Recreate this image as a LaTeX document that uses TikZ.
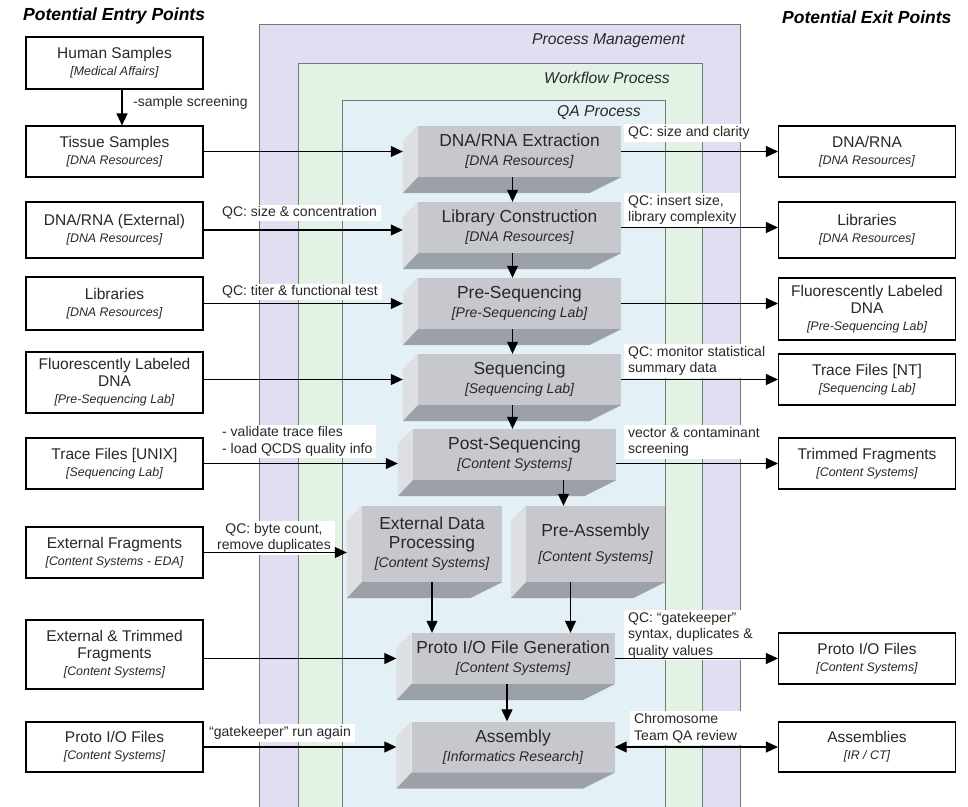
\documentclass[tikz,border=0pt]{standalone}
\usepackage{fontspec}
\setmainfont{Liberation Sans}
\usetikzlibrary{arrows.meta}
\usetikzlibrary{calc,positioning}

\definecolor{pmband}{RGB}{224,222,240}
\definecolor{wfband}{RGB}{226,242,229}
\definecolor{qaband}{RGB}{227,240,246}
\definecolor{frontgray}{RGB}{198,200,206}
\definecolor{sidegray}{RGB}{222,223,227}
\definecolor{basegray}{RGB}{156,160,168}
\definecolor{bandline}{RGB}{120,120,120}
\definecolor{inktext}{RGB}{40,40,40}

\newcommand{\dept}[1]{{\fontsize{12.4}{14}\selectfont\itshape #1}}
\newcommand{\pdept}[1]{{\fontsize{14}{16}\selectfont\itshape #1}}

\begin{document}
\begin{tikzpicture}[x=1pt, y=-1pt, >={Triangle[length=12pt,width=11pt]},
    endbox/.style={draw, line width=1.1pt, fill=white, minimum width=177pt, align=center,
        inner sep=0pt, text=inktext, font=\fontsize{15.5}{17}\selectfont},
    procbox/.style={fill=frontgray, minimum width=203pt, minimum height=51pt, align=center,
        inner sep=0pt, text=inktext, font=\fontsize{17.4}{19}\selectfont},
    qclabel/.style={fill=white, align=left, anchor=west, inner xsep=4pt, inner ysep=2pt,
        text=inktext, font=\fontsize{14}{16.5}\selectfont},
    bandlabel/.style={anchor=east, inner sep=0pt, text=inktext, font=\fontsize{15.7}{18}\selectfont\itshape},
    heading/.style={anchor=west, inner sep=0pt, font=\fontsize{17.5}{20}\selectfont\bfseries\itshape},
    flow/.style={->, line width=1.1pt}]

    \useasboundingbox (0,0) rectangle (968,806);

    % nested process areas
    \filldraw[fill=pmband, draw=bandline] (259,24) rectangle (740,812);
    \filldraw[fill=wfband, draw=bandline] (298,63) rectangle (702,812);
    \filldraw[fill=qaband, draw=bandline] (342,100) rectangle (665,812);

    \node[bandlabel] (pmlbl) at (685,41) {Process Management};
    \node[bandlabel] (wflbl) at (670,78) {Workflow Process};
    \node[bandlabel] (qalbl) at (641,112) {QA Process};

    \node[heading] (entryhd) at (23,16) {Potential Entry Points};
    \node[heading] (exithd) at (782,17) {Potential Exit Points};

    % QC notes
    \node[qclabel, inner xsep=0pt, fill=none] (screen) at (133,103) {-sample screening};
    \node[qclabel] (qcconc) at (218,213) {QC: size \& concentration};
    \node[qclabel] (qctiter) at (218,292) {QC: titer \& functional test};
    \node[qclabel] (qctrace) at (218,441.5) {- validate trace files\\- load QCDS quality info};
    \node[qclabel, align=center, anchor=center] (qcbyte) at (274,538) {QC: byte count,\\remove duplicates};
    \node[qclabel] (qcgate) at (205,733) {``gatekeeper'' run again};
    \node[qclabel] (qcclar) at (624,133) {QC: size and clarity};
    \node[qclabel] (qcins) at (624,210) {QC: insert size,\\library complexity};
    \node[qclabel] (qcstat) at (624,361) {QC: monitor statistical\\summary data};
    \node[qclabel] (qcvec) at (624,442) {vector \& contaminant\\screening};
    \node[qclabel] (qcsyn) at (624,635) {QC: ``gatekeeper''\\syntax, duplicates \&\\quality values};
    \node[qclabel] (qcrev) at (630,728) {Chromosome\\Team QA review};

    % entry points
    \node[endbox, minimum height=52pt] (hs) at (114.5,63) {Human Samples\\\dept{[Medical Affairs]}};
    \node[endbox, minimum height=51pt] (ts) at (114.5,151.5) {Tissue Samples\\\dept{[DNA Resources]}};
    \node[endbox, minimum height=56pt] (dnaext) at (114.5,230) {DNA/RNA (External)\\\dept{[DNA Resources]}};
    \node[endbox, minimum height=53pt] (libin) at (114.5,303.5) {Libraries\\\dept{[DNA Resources]}};
    \node[endbox, minimum height=61pt] (fldin) at (114.5,382.5) {Fluorescently Labeled\\DNA\\\dept{[Pre-Sequencing Lab]}};
    \node[endbox, minimum height=51pt] (trunix) at (114.5,463.5) {Trace Files [UNIX]\\\dept{[Sequencing Lab]}};
    \node[endbox, minimum height=51pt] (extfrag) at (114.5,552.5) {External Fragments\\\dept{[Content Systems - EDA]}};
    \node[endbox, minimum height=69pt] (etfrag) at (114.5,654.5) {External \& Trimmed\\Fragments\\\dept{[Content Systems]}};
    \node[endbox, minimum height=50pt] (protoin) at (114.5,747) {Proto I/O Files\\\dept{[Content Systems]}};

    % exit points
    \node[endbox, minimum height=51pt] (dnaout) at (867,151.5) {DNA/RNA\\\dept{[DNA Resources]}};
    \node[endbox, minimum height=56pt] (libout) at (867,230) {Libraries\\\dept{[DNA Resources]}};
    \node[endbox, minimum height=62pt] (fldout) at (867,309) {Fluorescently Labeled\\DNA\\\dept{[Pre-Sequencing Lab]}};
    \node[endbox, minimum height=51pt] (trnt) at (867,379.5) {Trace Files [NT]\\\dept{[Sequencing Lab]}};
    \node[endbox, minimum height=51pt] (trimout) at (867,463.5) {Trimmed Fragments\\\dept{[Content Systems]}};
    \node[endbox, minimum height=51pt] (protoout) at (867,658.5) {Proto I/O Files\\\dept{[Content Systems]}};
    \node[endbox, minimum height=50pt] (asmout) at (867,747) {Assemblies\\\dept{[IR / CT]}};

    % process steps
    \node[procbox] (extr) at (519.5,151.5) {DNA/RNA Extraction\\\pdept{[DNA Resources]}};
    \node[procbox] (libc) at (519.5,227.5) {Library Construction\\\pdept{[DNA Resources]}};
    \node[procbox] (preseq) at (519.5,303.5) {Pre-Sequencing\\\pdept{[Pre-Sequencing Lab]}};
    \node[procbox] (seq) at (519.5,379.5) {Sequencing\\\pdept{[Sequencing Lab]}};
    \node[procbox] (postseq) at (514.5,454.5) {Post-Sequencing\\\pdept{[Content Systems]}};
    \node[procbox, minimum width=140pt, minimum height=76pt] (edp) at (432,544) {External Data\\Processing\\\pdept{[Content Systems]}};
    \node[procbox, minimum width=139pt, minimum height=76pt] (preasm) at (595.5,544) {Pre-Assembly\\[6pt]\pdept{[Content Systems]}};
    \node[procbox] (protogen) at (513,658.5) {Proto I/O File Generation\\\pdept{[Content Systems]}};
    \node[procbox] (asm) at (513,747) {Assembly\\\pdept{[Informatics Research]}};

    \foreach \p in {extr,libc,preseq,seq,postseq,edp,preasm,protogen,asm}{
        \fill[sidegray] (\p.north west) -- ++(-15,15) -- ($(\p.south west)+(-15,16)$) -- (\p.south west) -- cycle;
        \fill[basegray] (\p.south west) -- ++(-15,16) -- ($(\p.south east)+(-32,16)$) -- (\p.south east) -- cycle;
        \coordinate (\p-l) at ($(\p.west)+(-15,0)$);
    }

    % inputs
    \draw[flow] ([xshift=7.5pt]hs.south) -- ([xshift=7.5pt]ts.north);
    \draw[flow] (ts.east) -- (extr-l);
    \draw[flow] (dnaext.east) -- (dnaext.east -| libc-l);
    \draw[flow] (libin.east) -- (libin.east -| preseq-l);
    \draw[flow] (fldin.east |- seq-l) -- (seq-l);
    \draw[flow] (trunix.east) -- (trunix.east -| postseq-l);
    \draw[flow] (extfrag.east) -- (extfrag.east -| edp-l);
    \draw[flow] (etfrag.east |- protogen-l) -- (protogen-l);
    \draw[flow] (protoin.east) -- (asm-l);

    % main flow
    \draw[flow] ([xshift=-7pt]extr.south) -- ([xshift=-7pt]libc.north);
    \draw[flow] ([xshift=-7pt]libc.south) -- ([xshift=-7pt]preseq.north);
    \draw[flow] ([xshift=-7pt]preseq.south) -- ([xshift=-7pt]seq.north);
    \draw[flow] ([xshift=-7pt]seq.south) -- ([xshift=-7pt]seq.south |- postseq.north);
    \draw[flow] ([xshift=-32pt]preasm.north |- postseq.south) -- ([xshift=-32pt]preasm.north);
    \draw[flow] (edp.south) -- (edp.south |- protogen.north);
    \draw[flow] ([xshift=-25pt]preasm.south) -- ([xshift=-25pt]preasm.south |- protogen.north);
    \draw[flow] ([xshift=-6pt]protogen.south) -- ([xshift=-6pt]asm.north);

    % outputs
    \draw[flow] (extr.east) -- (extr.east -| dnaout.west);
    \draw[flow] (libc.east) -- (libc.east -| libout.west);
    \draw[flow] (preseq.east) -- (preseq.east -| fldout.west);
    \draw[flow] (seq.east) -- (seq.east -| trnt.west);
    \draw[flow] (postseq.east |- trimout.west) -- (trimout.west);
    \draw[flow] (protogen.east) -- (protogen.east -| protoout.west);
    \draw[flow, <->] (asm.east) -- (asmout.west);

\end{tikzpicture}
\end{document}
